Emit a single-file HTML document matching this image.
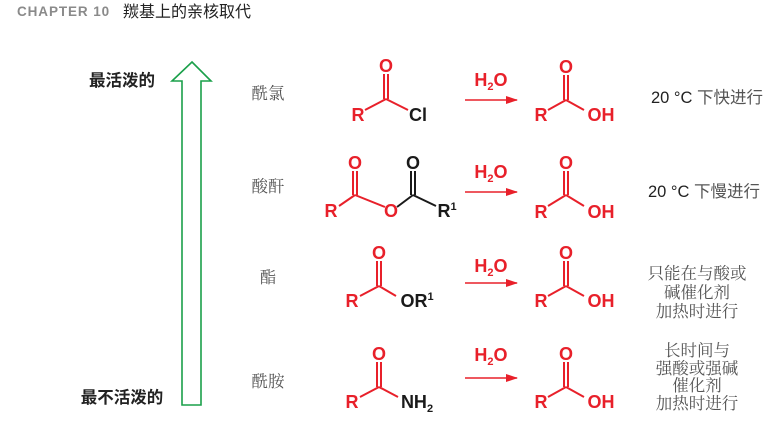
<!DOCTYPE html>
<html><head><meta charset="utf-8"><style>
html,body{margin:0;padding:0;background:#fff;width:782px;height:428px;overflow:hidden}
svg{display:block}
.m{font-family:"Liberation Sans",sans-serif;font-weight:bold;font-size:18px}
.r{fill:#e8202a}.k{fill:#1a1a1a}
.g{font-family:"Liberation Serif","Noto Serif CJK SC",serif;font-size:16.5px;fill:#555}
.t{font-family:"Liberation Sans","Noto Sans CJK SC",sans-serif;font-size:16.5px;fill:#222}
</style></head><body>
<svg width="782" height="428" viewBox="0 0 782 428" xmlns="http://www.w3.org/2000/svg">
<defs><marker id="ah" markerWidth="12" markerHeight="8" refX="11" refY="4" orient="auto" markerUnits="userSpaceOnUse"><path d="M0,0 L12,4 L0,8 Z" fill="#e8202a"/></marker></defs>
<text x="17" y="16" font-family="Liberation Sans,sans-serif" font-weight="bold" font-size="13.5" fill="#8a8a8a" letter-spacing="0.9">CHAPTER 10</text>
<text x="123" y="17" font-family="Liberation Sans,Noto Sans CJK SC,sans-serif" font-size="16" fill="#222">羰基上的亲核取代</text>
<path d="M192,62 L211,81 L201,81 L201,405 L182,405 L182,81 L172,81 Z" fill="none" stroke="#1aa04a" stroke-width="1.6"/>
<text x="122" y="86" text-anchor="middle" font-family="Liberation Sans,Noto Sans CJK SC,sans-serif" font-weight="bold" font-size="16.5" fill="#222">最活泼的</text>
<text x="122" y="403" text-anchor="middle" font-family="Liberation Sans,Noto Sans CJK SC,sans-serif" font-weight="bold" font-size="16.5" fill="#222">最不活泼的</text>
<text x="268" y="99" text-anchor="middle" class="g">酰氯</text>
<text x="268" y="192" text-anchor="middle" class="g">酸酐</text>
<text x="268" y="283" text-anchor="middle" class="g">酯</text>
<text x="268" y="387" text-anchor="middle" class="g">酰胺</text>
<g stroke-width="2" fill="none">
<path d="M365,110 L386,99 M384,74 L384,99 M388,74 L388,99" stroke="#e8202a"/>
<path d="M386,99 L408,110" stroke="#e8202a"/>
<path d="M339,206 L355,195 M353,171 L353,195 M357,171 L357,195 M355,195 L385,207" stroke="#e8202a"/>
<path d="M397,207 L413,195 M411,171 L411,195 M415,171 L415,195 M413,195 L436,206" stroke="#1a1a1a"/>
<path d="M360,296 L379,286 M377,261 L377,286 M381,261 L381,286 M379,286 L396,296" stroke="#e8202a"/>
<path d="M360,397 L379,387 M377,362 L377,387 M381,362 L381,387 M379,387 L398,397" stroke="#e8202a"/>
<g stroke="#e8202a">
<path d="M548,110 L566,100 M564,75 L564,100 M568,75 L568,100 M566,100 L584,110"/>
<path d="M548,206 L566,195 M564,171 L564,195 M568,171 L568,195 M566,195 L584,206"/>
<path d="M548,296 L566,286 M564,261 L564,286 M568,261 L568,286 M566,286 L584,296"/>
<path d="M548,397 L566,387 M564,362 L564,387 M568,362 L568,387 M566,387 L584,397"/>
<g stroke-width="1.4">
<path d="M465,100 L517,100" marker-end="url(#ah)"/>
<path d="M465,192 L517,192" marker-end="url(#ah)"/>
<path d="M465,283 L517,283" marker-end="url(#ah)"/>
<path d="M465,378 L517,378" marker-end="url(#ah)"/>
</g>
</g>
</g>
<g class="m" text-anchor="middle">
<text x="386" y="72" class="r">O</text><text x="358" y="121" class="r">R</text><text x="418" y="121" class="k">Cl</text>
<text x="355" y="169" class="r">O</text><text x="331" y="217" class="r">R</text><text x="391" y="217" class="r">O</text><text x="413" y="169" class="k">O</text>
<text x="447" y="217" class="k">R<tspan font-size="11" dy="-7">1</tspan></text>
<text x="379" y="259" class="r">O</text><text x="352" y="307" class="r">R</text><text x="417" y="307" class="k">OR<tspan font-size="11" dy="-7">1</tspan></text>
<text x="379" y="360" class="r">O</text><text x="352" y="408" class="r">R</text><text x="417" y="408" class="k">NH<tspan font-size="11" dy="4">2</tspan></text>
<g class="r">
<text x="566" y="73">O</text><text x="541" y="121">R</text><text x="601" y="121">OH</text>
<text x="566" y="169">O</text><text x="541" y="218">R</text><text x="601" y="218">OH</text>
<text x="566" y="259">O</text><text x="541" y="307">R</text><text x="601" y="307">OH</text>
<text x="566" y="360">O</text><text x="541" y="408">R</text><text x="601" y="408">OH</text>
<text x="491" y="86">H<tspan font-size="11" dy="4">2</tspan><tspan dy="-4">O</tspan></text>
<text x="491" y="178">H<tspan font-size="11" dy="4">2</tspan><tspan dy="-4">O</tspan></text>
<text x="491" y="272">H<tspan font-size="11" dy="4">2</tspan><tspan dy="-4">O</tspan></text>
<text x="491" y="361">H<tspan font-size="11" dy="4">2</tspan><tspan dy="-4">O</tspan></text>
</g>
</g>
<text x="651" y="103" class="t">20 °C <tspan fill="#555">下快进行</tspan></text>
<text x="648" y="197" class="t">20 °C <tspan fill="#555">下慢进行</tspan></text>
<g class="g" text-anchor="middle">
<text x="697" y="279">只能在与酸或</text><text x="697" y="298">碱催化剂</text><text x="697" y="317">加热时进行</text>
<text x="697" y="356">长时间与</text><text x="697" y="374">强酸或强碱</text><text x="697" y="391">催化剂</text><text x="697" y="409">加热时进行</text>
</g>
</svg>
</body></html>
